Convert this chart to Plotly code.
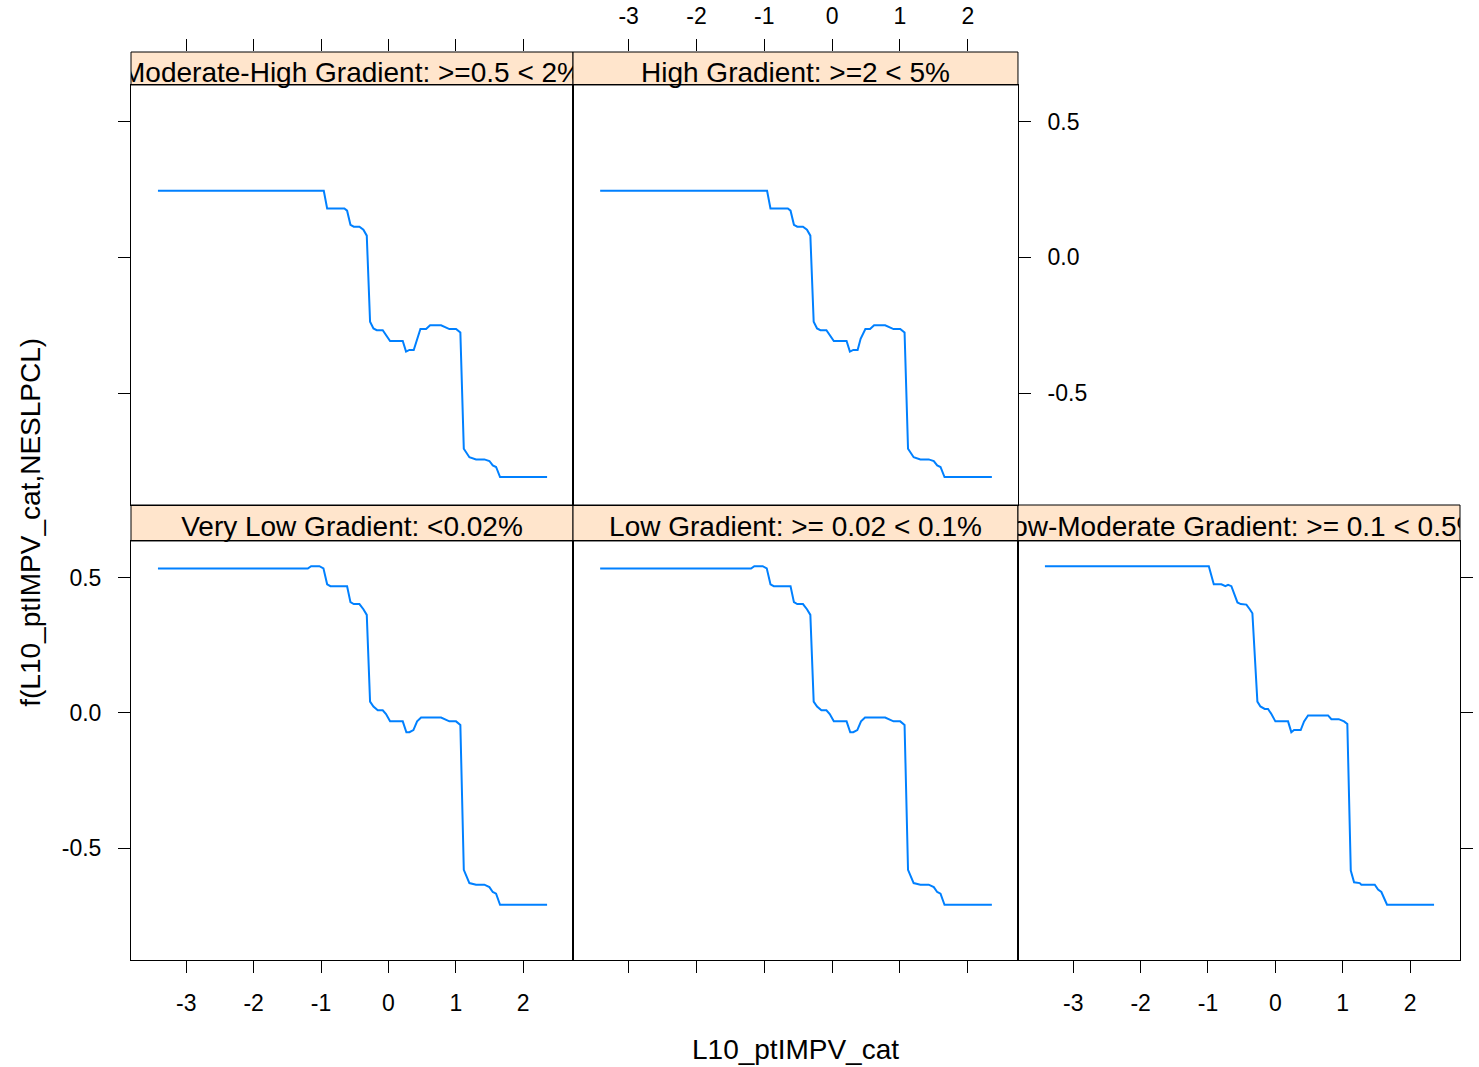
import plotly.graph_objects as go

# ---- data -------------------------------------------------------------
x_ticks = [-3, -2, -1, 0, 1, 2]
x_tick_text = ["-3", "-2", "-1", "0", "1", "2"]
y_ticks = [-0.5, 0.0, 0.5]
y_tick_text = ["-0.5", "0.0", "0.5"]

strip_titles = [
    "Very Low Gradient: <0.02%",
    "Low Gradient: >= 0.02 < 0.1%",
    "Low-Moderate Gradient: >= 0.1 < 0.5%",
    "Moderate-High Gradient: >=0.5 < 2%",
    "High Gradient: >=2 < 5%",
]

x_very_low = [-3.42, -1.196, -1.147, -1.024, -0.964, -0.909, -0.86, -0.613, -0.563,
              -0.514, -0.43, -0.371, -0.321, -0.272, -0.222, -0.158, -0.084, -0.035,
              0.025, 0.213, 0.267, 0.312, 0.371, 0.426, 0.485, 0.782, 0.905, 1.004,
              1.068, 1.119, 1.202, 1.301, 1.424, 1.499, 1.549, 1.598, 1.657, 2.355]
y_very_low = [0.533, 0.533, 0.542, 0.542, 0.534, 0.475, 0.468, 0.468, 0.409,
              0.402, 0.402, 0.383, 0.362, 0.042, 0.024, 0.010, 0.010, -0.004,
              -0.031, -0.031, -0.071, -0.071, -0.063, -0.031, -0.017, -0.017, -0.031, -0.031,
              -0.044, -0.579, -0.628, -0.634, -0.634, -0.643, -0.661, -0.667, -0.708, -0.708]

x_low = [-3.42, -1.196, -1.147, -1.024, -0.964, -0.909, -0.86, -0.613, -0.563,
         -0.514, -0.43, -0.371, -0.321, -0.272, -0.222, -0.158, -0.084, -0.035,
         0.025, 0.213, 0.267, 0.312, 0.371, 0.426, 0.485, 0.782, 0.905, 1.004,
         1.068, 1.119, 1.202, 1.301, 1.424, 1.499, 1.549, 1.598, 1.657, 2.355]
y_low = [0.533, 0.533, 0.542, 0.542, 0.534, 0.475, 0.468, 0.468, 0.409,
         0.402, 0.402, 0.383, 0.362, 0.042, 0.024, 0.010, 0.010, -0.004,
         -0.031, -0.031, -0.071, -0.071, -0.063, -0.031, -0.017, -0.017, -0.031, -0.031,
         -0.044, -0.579, -0.628, -0.634, -0.634, -0.643, -0.661, -0.667, -0.708, -0.708]

x_low_mod = [-3.42, -0.988, -0.914, -0.801, -0.742, -0.702, -0.653, -0.563, -0.514,
             -0.43, -0.38, -0.341, -0.267, -0.222, -0.158, -0.109, -0.059, 0.0,
             0.188, 0.237, 0.277, 0.376, 0.426, 0.485, 0.782, 0.831, 0.94, 1.019,
             1.068, 1.119, 1.168, 1.252, 1.276, 1.475, 1.524, 1.573, 1.657, 2.355]
y_low_mod = [0.542, 0.542, 0.475, 0.475, 0.468, 0.473, 0.468, 0.408, 0.402,
             0.400, 0.383, 0.368, 0.042, 0.024, 0.015, 0.015, -0.004, -0.031,
             -0.031, -0.071, -0.063, -0.063, -0.031, -0.009, -0.009, -0.023, -0.023, -0.031,
             -0.041, -0.582, -0.625, -0.628, -0.634, -0.634, -0.652, -0.661, -0.708, -0.708]

x_mod_high = [-3.42, -0.959, -0.909, -0.653, -0.613, -0.563, -0.514, -0.43, -0.371,
              -0.321, -0.272, -0.222, -0.173, -0.084, 0.025, 0.213, 0.262, 0.312,
              0.376, 0.475, 0.559, 0.619, 0.782, 0.905, 1.004, 1.068, 1.119, 1.202,
              1.301, 1.424, 1.499, 1.549, 1.598, 1.657, 2.355]
y_mod_high = [0.245, 0.245, 0.180, 0.180, 0.172, 0.120, 0.113, 0.113, 0.102,
              0.080, -0.237, -0.262, -0.268, -0.268, -0.308, -0.308, -0.347, -0.341,
              -0.341, -0.264, -0.264, -0.250, -0.250, -0.264, -0.264, -0.277, -0.705, -0.736,
              -0.744, -0.744, -0.750, -0.766, -0.772, -0.809, -0.809]

x_high = [-3.42, -0.959, -0.909, -0.653, -0.613, -0.563, -0.514, -0.43, -0.371,
          -0.321, -0.272, -0.222, -0.173, -0.084, 0.025, 0.213, 0.262, 0.312,
          0.376, 0.42, 0.49, 0.559, 0.619, 0.782, 0.905, 1.004, 1.068, 1.119, 1.202,
          1.301, 1.424, 1.499, 1.549, 1.598, 1.657, 2.355]
y_high = [0.245, 0.245, 0.180, 0.180, 0.172, 0.120, 0.113, 0.113, 0.102,
          0.080, -0.237, -0.262, -0.268, -0.268, -0.308, -0.308, -0.347, -0.341,
          -0.341, -0.300, -0.264, -0.264, -0.250, -0.250, -0.264, -0.264, -0.277, -0.705, -0.736,
          -0.744, -0.744, -0.750, -0.766, -0.772, -0.809, -0.809]

panel_x = [x_very_low, x_low, x_low_mod, x_mod_high, x_high]
panel_y = [y_very_low, y_low, y_low_mod, y_mod_high, y_high]

# ---- layout geometry --------------------------------------------------
X_RANGE = [-3.82, 2.74]
Y_RANGE = [-0.912, 0.635]
cols = [[0.0, 0.3326], [0.3326, 0.6674], [0.6674, 1.0]]
row_bottom = [0.0, 0.4615]
strip_bottom = [0.4615, 0.5011]
row_top = [0.5011, 0.9637]
strip_top = [0.9637, 1.0]
DESCENT = 0.008  # room below a strip so letter descenders are not clipped

# panel index -> (column, panel rows, strip rows)
panel_pos = [
    (0, row_bottom, strip_bottom),
    (1, row_bottom, strip_bottom),
    (2, row_bottom, strip_bottom),
    (0, row_top, strip_top),
    (1, row_top, strip_top),
]

LINE_COL = "#0080ff"
FONT = "Liberation Sans, Arial, Helvetica, sans-serif"
TICK_SIZE = 23
STRIP_SIZE = 28

fig = go.Figure()
layout = {}
shapes = []

for i, (c, prow, srow) in enumerate(panel_pos):
    n = i + 1
    s = i + 6
    fig.add_trace(go.Scatter(
        x=panel_x[i], y=panel_y[i], mode="lines",
        line=dict(color=LINE_COL, width=2),
        xaxis=f"x{n}", yaxis=f"y{n}", showlegend=False, hoverinfo="skip",
    ))
    # strip label, clipped left/right to the strip like a lattice strip
    fig.add_trace(go.Scatter(
        x=[(X_RANGE[0] + X_RANGE[1]) / 2], y=[0.44], mode="text",
        text=[strip_titles[i]],
        textfont=dict(size=STRIP_SIZE, color="black", family=FONT),
        textposition="middle center", cliponaxis=True,
        xaxis=f"x{s}", yaxis=f"y{s}", showlegend=False, hoverinfo="skip",
    ))

    bottom_row = prow is row_bottom
    x_ticks_on = bottom_row
    x_labels_on = bottom_row and c != 1
    layout[f"xaxis{n}"] = dict(
        domain=cols[c], anchor=f"y{n}", range=X_RANGE,
        tickvals=x_ticks, ticktext=x_tick_text,
        ticks="outside" if x_ticks_on else "", ticklen=12, tickwidth=1, tickcolor="black",
        showticklabels=x_labels_on, tickfont=dict(size=TICK_SIZE, color="black"),
        ticklabelstandoff=10, automargin=False,
        showgrid=False, zeroline=False, showline=True, linecolor="black",
        linewidth=1, mirror=True,
    )

    if c == 0:
        y_side, y_ticks_on, y_labels_on = "left", True, bottom_row
    elif (c == 2 and bottom_row) or (c == 1 and not bottom_row):
        y_side, y_ticks_on, y_labels_on = "right", True, not bottom_row
    else:
        y_side, y_ticks_on, y_labels_on = "left", False, False
    layout[f"yaxis{n}"] = dict(
        domain=prow, anchor=f"x{n}", range=Y_RANGE, side=y_side,
        tickvals=y_ticks, ticktext=y_tick_text,
        ticks="outside" if y_ticks_on else "", ticklen=12, tickwidth=1, tickcolor="black",
        showticklabels=y_labels_on, tickfont=dict(size=TICK_SIZE, color="black"),
        ticklabelstandoff=12, automargin=False,
        showgrid=False, zeroline=False, showline=True, linecolor="black",
        linewidth=1, mirror=True,
    )

    # strip axes; the top row carries the upper tick marks
    layout[f"xaxis{s}"] = dict(
        domain=cols[c], anchor=f"y{s}", range=X_RANGE, side="top",
        tickvals=x_ticks, ticktext=x_tick_text,
        ticks="outside" if not bottom_row else "", ticklen=12, tickwidth=1,
        tickcolor="black",
        showticklabels=(not bottom_row and c == 1),
        tickfont=dict(size=TICK_SIZE, color="black"), ticklabelstandoff=6,
        automargin=False,
        showgrid=False, zeroline=False, showline=False, fixedrange=True,
    )
    layout[f"yaxis{s}"] = dict(
        domain=[srow[0] - DESCENT, srow[1]], anchor=f"x{s}", range=[0, 1],
        visible=False, fixedrange=True, automargin=False,
    )

    shapes.append(dict(
        type="rect", xref="paper", yref="paper",
        x0=cols[c][0], x1=cols[c][1], y0=srow[0], y1=srow[1],
        fillcolor="#ffe5cc", line=dict(color="black", width=1), layer="below",
    ))

fig.update_layout(
    **layout,
    shapes=shapes,
    width=1479, height=1067,
    margin=dict(l=131, r=19, t=52, b=107, autoexpand=False),
    paper_bgcolor="white", plot_bgcolor="rgba(0,0,0,0)",
    font=dict(family=FONT, color="black", size=TICK_SIZE),
    showlegend=False,
    annotations=[
        dict(text="L10_ptIMPV_cat", xref="paper", yref="paper", x=0.5, y=-0.099,
             xanchor="center", yanchor="middle", showarrow=False,
             font=dict(size=STRIP_SIZE, family=FONT, color="black")),
        dict(text="f(L10_ptIMPV_cat,NESLPCL)", xref="paper", yref="paper",
             x=-0.0757, y=0.482, xanchor="center", yanchor="middle", textangle=-90,
             showarrow=False, font=dict(size=STRIP_SIZE, family=FONT, color="black")),
    ],
)

fig.write_html("out.html")
